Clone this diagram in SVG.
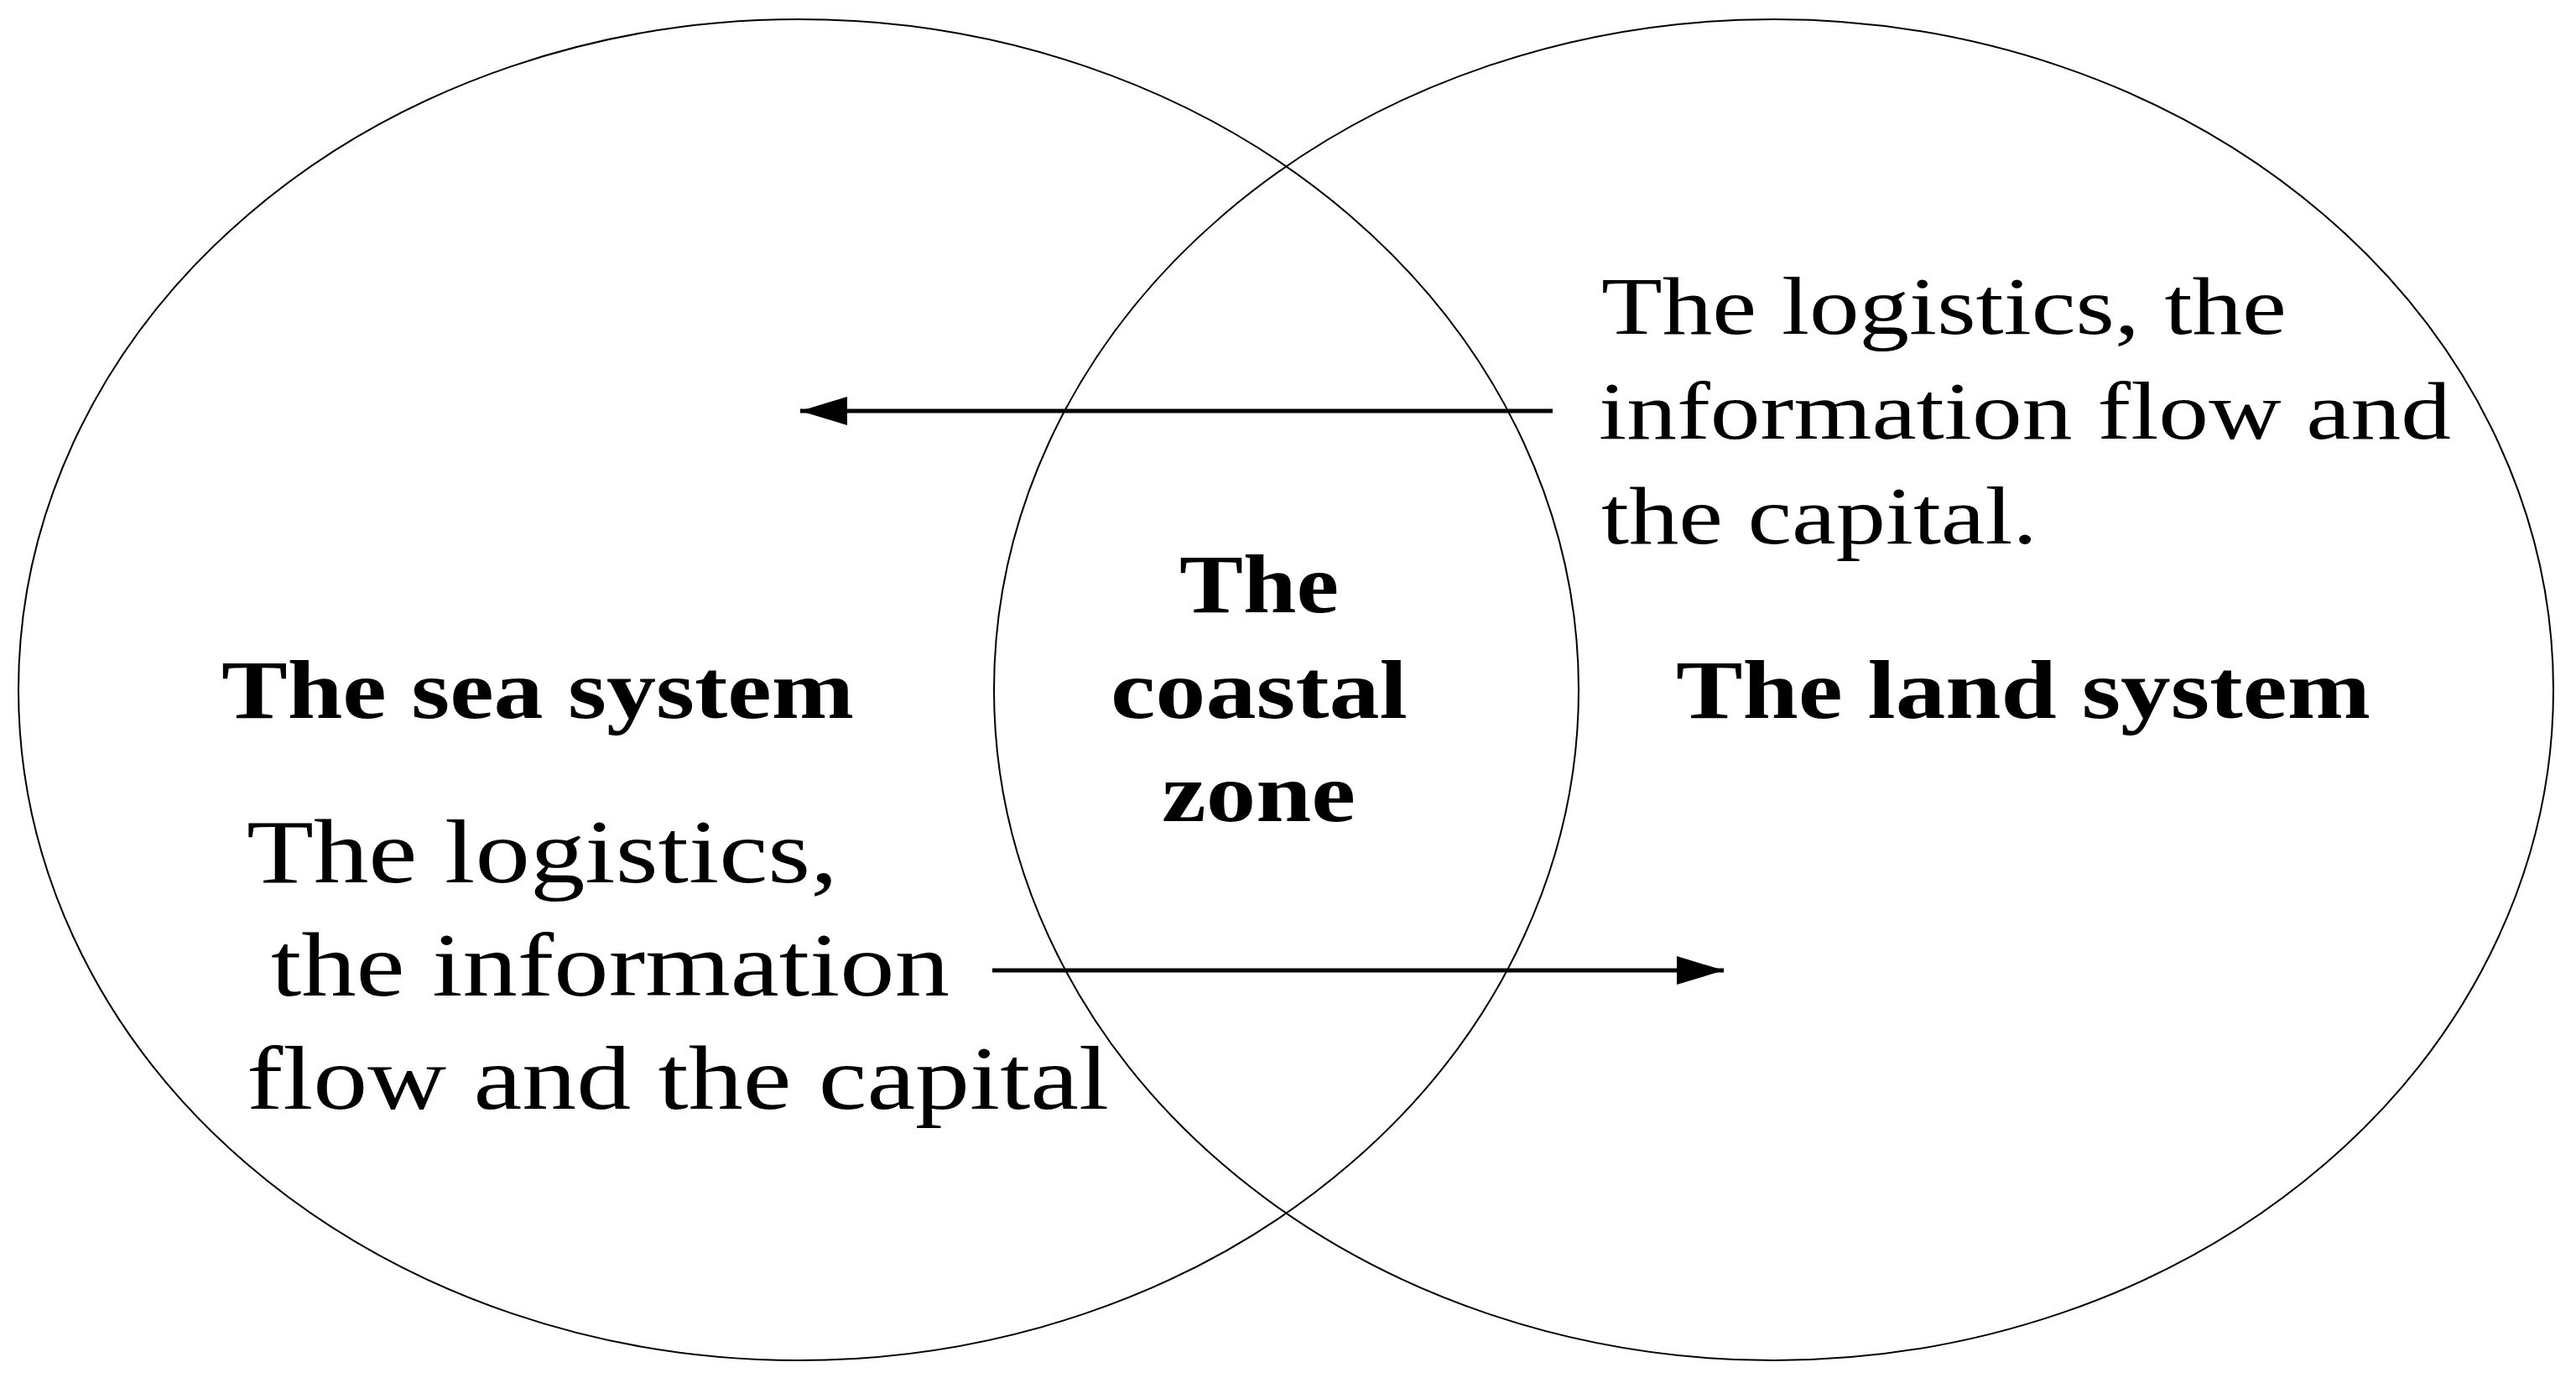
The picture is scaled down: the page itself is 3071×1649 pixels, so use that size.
<svg xmlns="http://www.w3.org/2000/svg" width="3071" height="1649" viewBox="0 0 3071 1649">
<style>
.sys{fill:none;stroke:#000;stroke-width:2}
.lbl{font-family:"Liberation Serif","Times New Roman",serif;font-size:100px;font-weight:bold;fill:#000}
.txt{font-family:"Liberation Serif","Times New Roman",serif;fill:#000}
.arr{stroke:#000;stroke-width:5;fill:none}
</style>
<defs>
<marker id="ah" markerUnits="userSpaceOnUse" markerWidth="56" markerHeight="34" refX="56" refY="17" orient="auto">
<path d="M0,0 L56,17 L0,34 z" fill="#000"/>
</marker>
</defs>
<rect width="3071" height="1649" fill="#fff"/>
<g id="sea-system">
<ellipse class="sys" cx="952" cy="822.5" rx="930" ry="799.5"/>
<text class="lbl" x="264" y="856" textLength="754" lengthAdjust="spacingAndGlyphs">The sea system</text>
</g>
<g id="land-system">
<ellipse class="sys" cx="2114.5" cy="822.5" rx="929.5" ry="799.5"/>
<text class="lbl" x="1998" y="856" textLength="828" lengthAdjust="spacingAndGlyphs">The land system</text>
</g>
<g id="coastal-zone">
<text class="lbl" x="1406" y="730" textLength="190" lengthAdjust="spacingAndGlyphs">The</text>
<text class="lbl" x="1324" y="856" textLength="354" lengthAdjust="spacingAndGlyphs">coastal</text>
<text class="lbl" x="1385" y="979" textLength="231" lengthAdjust="spacingAndGlyphs">zone</text>
</g>
<g id="connectors">
<line class="arr" x1="1851" y1="490" x2="954" y2="490" marker-end="url(#ah)"/>
<line class="arr" x1="1183" y1="1157" x2="2055" y2="1157" marker-end="url(#ah)"/>
</g>
<g id="land-to-sea-label" class="txt" font-size="98">
<text x="1909" y="398" textLength="817" lengthAdjust="spacingAndGlyphs">The logistics, the</text>
<text x="1906" y="523" textLength="1016" lengthAdjust="spacingAndGlyphs">information flow and</text>
<text x="1909" y="648" textLength="520" lengthAdjust="spacingAndGlyphs">the capital.</text>
</g>
<g id="sea-to-land-label" class="txt" font-size="108">
<text x="294" y="1052" textLength="705" lengthAdjust="spacingAndGlyphs">The logistics,</text>
<text x="323" y="1187" textLength="809" lengthAdjust="spacingAndGlyphs">the information</text>
<text x="294" y="1322" textLength="1028" lengthAdjust="spacingAndGlyphs">flow and the capital</text>
</g>
</svg>
